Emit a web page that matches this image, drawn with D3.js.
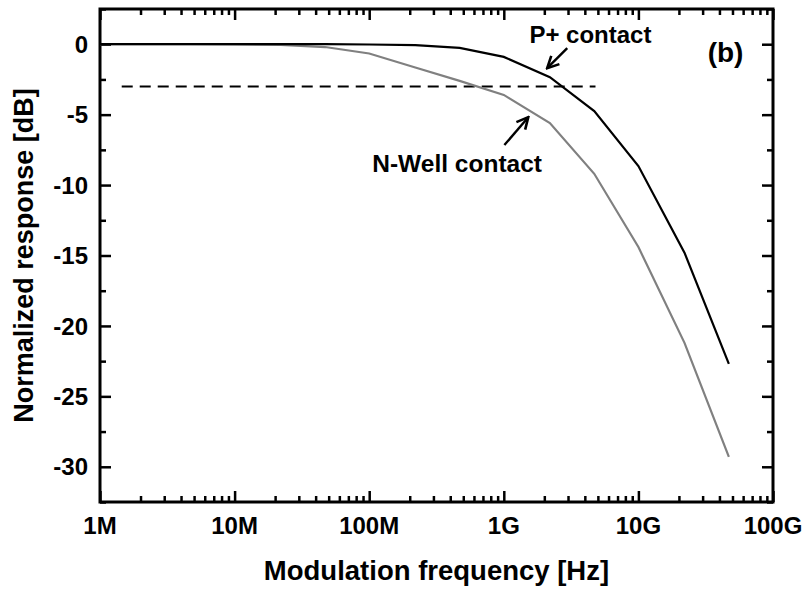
<!DOCTYPE html>
<html>
<head>
<meta charset="utf-8">
<script src="https://cdn.jsdelivr.net/npm/d3@7"></script>
<style>
  body { margin: 0; background: #fff; }
  text { font-family: "Liberation Sans", Arial, sans-serif; font-weight: bold; fill: #000; }
</style>
</head>
<body>
<div class="box"></div>
<script>
// donnees
const freq = [1e6, 2.2e6, 4.7e6, 1e7, 2.2e7, 4.7e7, 1e8, 2.2e8, 4.7e8, 1e9, 2.2e9, 4.7e9, 1e10, 2.2e10, 4.7e10];
const pContact = [0, 0, 0, 0, 0, 0, -0.02, -0.07, -0.26, -0.9, -2.34, -4.75, -8.65, -14.8, -22.7];
const nWell = [0, 0, 0, -0.01, -0.04, -0.2, -0.66, -1.65, -2.6, -3.6, -5.6, -9.2, -14.4, -21.2, -29.3];
const seuilX = [1.45e6, 4.8e9];
const seuil = -3;
const xTicks = [1e6, 1e7, 1e8, 1e9, 1e10, 1e11];
const xLabels = ['1M', '10M', '100M', '1G', '10G', '100G'];
const yTicks = [0, -5, -10, -15, -20, -25, -30];

const W = 811, H = 591;
const m = {left: 100, right: 38, top: 9, bottom: 89};

const svg = d3.select('.box')
              .append('svg')
              .attr('width', W)
              .attr('height', H);

const x = d3.scaleLog()
            .domain([1e6, 1e11])
            .range([m.left, W - m.right]);

const y = d3.scaleLinear()
            .domain([-32.5, 2.5])
            .range([H - m.bottom, m.top]);

// ticks mineurs
const xMinor = [];
for (let e = 6; e < 11; e++) {
    for (let k = 2; k <= 9; k++) xMinor.push(k * Math.pow(10, e));
}
const yMinor = d3.range(-32.5, 2.6, 2.5).filter(v => v % 5 !== 0);

// axes (ticks vers l'interieur)
[{ax: d3.axisBottom(x), t: `translate(0,${y.range()[0]})`},
 {ax: d3.axisTop(x), t: `translate(0,${y.range()[1]})`}].forEach(a => {
    svg.append('g').attr('transform', a.t)
       .call(a.ax.tickValues(xTicks).tickSize(-11).tickFormat(''))
       .call(g => g.select('.domain').remove());
    svg.append('g').attr('transform', a.t)
       .call(a.ax.tickValues(xMinor).tickSize(-6).tickFormat(''))
       .call(g => g.select('.domain').remove());
});

[{ax: d3.axisLeft(y), t: `translate(${x.range()[0]},0)`},
 {ax: d3.axisRight(y), t: `translate(${x.range()[1]},0)`}].forEach(a => {
    svg.append('g').attr('transform', a.t)
       .call(a.ax.tickValues(yTicks).tickSize(-11).tickFormat(''))
       .call(g => g.select('.domain').remove());
    svg.append('g').attr('transform', a.t)
       .call(a.ax.tickValues(yMinor).tickSize(-6).tickFormat(''))
       .call(g => g.select('.domain').remove());
});

svg.selectAll('.tick line').attr('stroke', '#000').attr('stroke-width', 2.5);

// cadre
svg.append('rect')
   .attr('x', x.range()[0])
   .attr('y', y.range()[1])
   .attr('width', x.range()[1] - x.range()[0])
   .attr('height', y.range()[0] - y.range()[1])
   .attr('fill', 'none')
   .attr('stroke', '#000')
   .attr('stroke-width', 3);

// labels des ticks
svg.selectAll('.xlab')
   .data(xTicks)
   .enter().append('text')
   .attr('x', d => x(d))
   .attr('y', y.range()[0] + 32)
   .attr('text-anchor', 'middle')
   .style('font-size', '24px')
   .text((d, i) => xLabels[i]);

svg.selectAll('.ylab')
   .data(yTicks)
   .enter().append('text')
   .attr('x', x.range()[0] - 12)
   .attr('y', d => y(d))
   .attr('dy', '0.36em')
   .attr('text-anchor', 'end')
   .style('font-size', '24px')
   .text(d => d);

// titres
svg.append('text')
   .attr('x', (x.range()[0] + x.range()[1]) / 2)
   .attr('y', H - 11)
   .attr('text-anchor', 'middle')
   .style('font-size', '27.5px')
   .text('Modulation frequency [Hz]');

svg.append('text')
   .attr('transform', `translate(33, ${(y.range()[0] + y.range()[1]) / 2}) rotate(-90)`)
   .attr('text-anchor', 'middle')
   .style('font-size', '27px')
   .text('Normalized response [dB]');

// ligne -3 dB
svg.append('line')
   .attr('x1', x(seuilX[0])).attr('x2', x(seuilX[1]))
   .attr('y1', y(seuil)).attr('y2', y(seuil))
   .attr('stroke', '#000')
   .attr('stroke-width', 2)
   .attr('stroke-dasharray', '11,7');

// courbes
const ligne = vals => d3.line()
                        .x((d, i) => x(freq[i]))
                        .y(d => y(d))(vals);

svg.append('path')
   .attr('d', ligne(nWell))
   .attr('fill', 'none')
   .attr('stroke', '#808080')
   .attr('stroke-width', 2.2);

svg.append('path')
   .attr('d', ligne(pContact))
   .attr('fill', 'none')
   .attr('stroke', '#000')
   .attr('stroke-width', 2.2);

// fleches et annotations
svg.append('defs').append('marker')
   .attr('id', 'fleche')
   .attr('viewBox', '0 0 10 10')
   .attr('refX', 9).attr('refY', 5)
   .attr('markerWidth', 6).attr('markerHeight', 6)
   .attr('orient', 'auto')
   .append('path')
   .attr('d', 'M1,1 L9,5 L1,9')
   .attr('fill', 'none')
   .attr('stroke', '#000')
   .attr('stroke-width', 1.8);

const fleches = [
    {from: [2.96e9, -0.28], to: [2.1e9, -1.7]},
    {from: [1.01e9, -7.16], to: [1.52e9, -5.18]}
];
fleches.forEach(f => {
    svg.append('line')
       .attr('x1', x(f.from[0])).attr('y1', y(f.from[1]))
       .attr('x2', x(f.to[0])).attr('y2', y(f.to[1]))
       .attr('stroke', '#000')
       .attr('stroke-width', 2.4)
       .attr('marker-end', 'url(#fleche)');
});

const notes = [
    {t: 'P+ contact', f: 4.4e9, v: 0.07, s: 24},
    {t: 'N-Well contact', f: 4.5e8, v: -9.08, s: 24.5},
    {t: '(b)', f: 4.44e10, v: -1.28, s: 28}
];
notes.forEach(n => {
    svg.append('text')
       .attr('x', x(n.f))
       .attr('y', y(n.v))
       .attr('text-anchor', 'middle')
       .style('font-size', n.s + 'px')
       .text(n.t);
});
</script>
</body>
</html>
